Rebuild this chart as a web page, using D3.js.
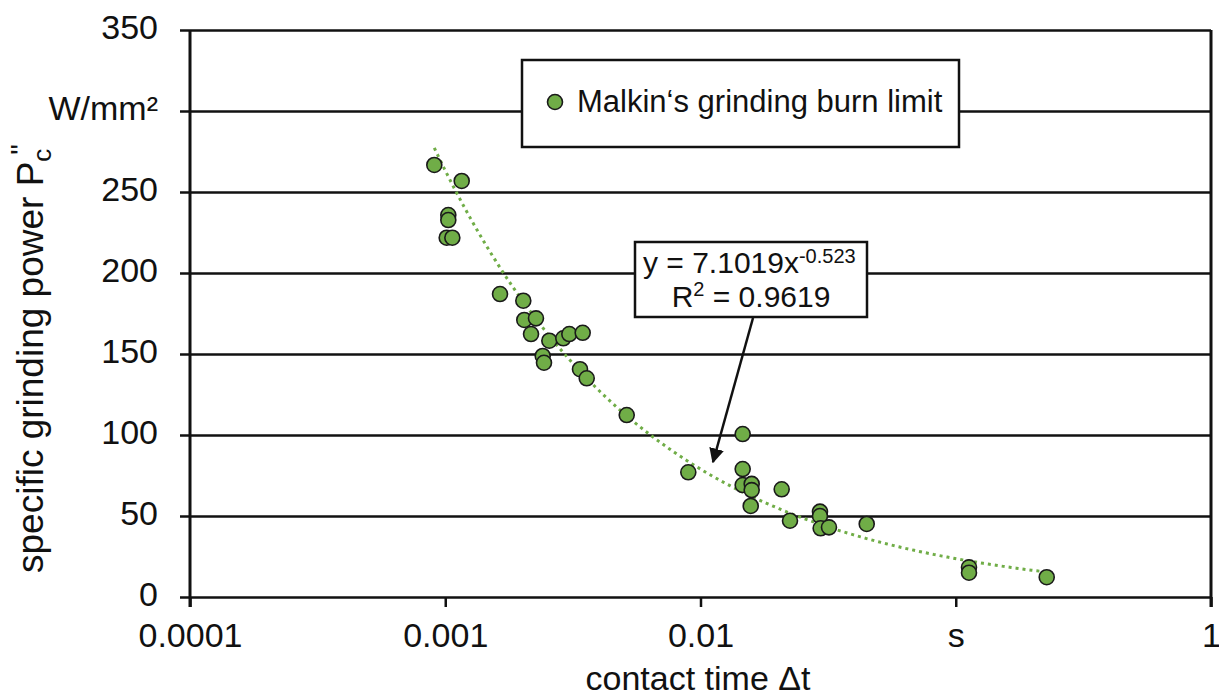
<!DOCTYPE html>
<html>
<head>
<meta charset="utf-8">
<script src="https://cdn.jsdelivr.net/npm/d3@7"></script>
<style>
  body { margin: 0; background: #fff; }
  text { font-family: "Liberation Sans", Arial, sans-serif; fill: #111; }
</style>
</head>
<body>
<div id="graph"></div>
<script>
// contact time (s) and specific grinding power (W/mm²)
const contactTime = [
  0.000906, 0.001160, 0.001028, 0.001028, 0.001013, 0.001066,
  0.001639, 0.002022, 0.002040, 0.002267, 0.002168, 0.002557,
  0.002409, 0.002437, 0.002901, 0.003062, 0.003455, 0.003372,
  0.003583, 0.005140, 0.008958, 0.01463, 0.01463, 0.01463,
  0.01587, 0.01587, 0.01573, 0.02080, 0.02242, 0.02938,
  0.02938, 0.02956, 0.03187, 0.04479, 0.1127, 0.1127, 0.2272
];
const grindPower = [
  266.7, 256.8, 235.8, 232.7, 221.8, 221.8,
  187.0, 182.9, 171.0, 172.0, 162.3, 158.2,
  148.8, 144.6, 159.7, 162.3, 163.1, 140.6,
  135.0, 112.3, 77.0, 100.6, 79.0, 69.1,
  69.8, 66.0, 56.2, 66.5, 47.1, 52.7,
  50.0, 42.4, 43.0, 45.1, 18.3, 15.0, 12.2
];

// power trendline printed on the chart: y = 7.1019 x^-0.523
const trendA = 7.1019;
const trendB = -0.523;

const xTicks = [0.0001, 0.001, 0.01, 0.1, 1];
const xTickLabels = ["0.0001", "0.001", "0.01", "s", "1"];
const yTicks = [0, 50, 100, 150, 200, 250, 300, 350];
const yTickLabels = ["0", "50", "100", "150", "200", "250", "W/mm²", "350"];

const width = 1219;
const height = 700;
const margin = {top: 30, right: 8, bottom: 103, left: 190};
const w = width - margin.left - margin.right;
const h = height - margin.top - margin.bottom;
const green = "#70ad47";

const svg = d3.select("#graph")
  .append("svg")
  .attr("width", width)
  .attr("height", height);

const g = svg.append("g")
  .attr("transform", `translate(${margin.left},${margin.top})`);

const x = d3.scaleLog()
  .domain([0.0001, 1])
  .range([0, w]);

const y = d3.scaleLinear()
  .domain([0, 350])
  .range([h, 0]);

// y axis with full-width gridlines
const yAxis = g.append("g")
  .call(d3.axisLeft(y).tickValues(yTicks)
    .tickFormat((d, i) => yTickLabels[i]).tickSize(10).tickPadding(22));
yAxis.select(".domain").remove();
yAxis.selectAll(".tick line")
  .attr("x1", -10)
  .attr("x2", w)
  .attr("stroke", "#111")
  .attr("stroke-width", 2.5);
yAxis.selectAll(".tick text")
  .attr("font-size", 34)
  .attr("dy", "0.26em");

// x axis
const xAxis = g.append("g")
  .attr("transform", `translate(0,${h})`)
  .call(d3.axisBottom(x).tickValues(xTicks)
    .tickFormat((d, i) => xTickLabels[i]).tickSize(10).tickPadding(16));
xAxis.select(".domain").remove();
xAxis.selectAll(".tick line")
  .attr("stroke", "#111")
  .attr("stroke-width", 2.5);
xAxis.selectAll(".tick text")
  .attr("font-size", 34);

// left axis line and right border
g.append("line")
  .attr("x1", 0).attr("x2", 0)
  .attr("y1", 0).attr("y2", h + 10)
  .attr("stroke", "#111").attr("stroke-width", 3);
g.append("line")
  .attr("x1", w).attr("x2", w)
  .attr("y1", 0).attr("y2", h + 10)
  .attr("stroke", "#111").attr("stroke-width", 3);

// trendline
const ext = d3.extent(contactTime);
const logT = d3.range(Math.log10(ext[0]), Math.log10(ext[1]) + 0.001, 0.01)
  .map(v => Math.pow(10, v));
const line = d3.line()
  .x(d => x(d))
  .y(d => y(trendA * Math.pow(d, trendB)));
g.append("path")
  .datum(logT)
  .attr("fill", "none")
  .attr("stroke", green)
  .attr("stroke-width", 3)
  .attr("stroke-dasharray", "3 4")
  .attr("d", line);

// points
g.selectAll("circle.pt")
  .data(contactTime)
  .join("circle")
  .attr("class", "pt")
  .attr("cx", d => x(d))
  .attr("cy", (d, i) => y(grindPower[i]))
  .attr("r", 7.5)
  .attr("fill", green)
  .attr("stroke", "#1a1a1a")
  .attr("stroke-width", 1.6);

// legend
const legend = svg.append("g");
legend.append("rect")
  .attr("x", 522).attr("y", 60)
  .attr("width", 437).attr("height", 87)
  .attr("fill", "#fff")
  .attr("stroke", "#111")
  .attr("stroke-width", 2.5);
legend.append("circle")
  .attr("cx", 555).attr("cy", 102).attr("r", 7.5)
  .attr("fill", green)
  .attr("stroke", "#1a1a1a")
  .attr("stroke-width", 1.6);
legend.append("text")
  .attr("x", 577).attr("y", 112)
  .attr("font-size", 31)
  .text("Malkin‘s grinding burn limit");

// equation box with arrow
svg.append("defs").append("marker")
  .attr("id", "arrow")
  .attr("viewBox", "0 0 10 10")
  .attr("refX", 9).attr("refY", 5)
  .attr("markerWidth", 6).attr("markerHeight", 6)
  .attr("orient", "auto")
  .append("path")
  .attr("d", "M0,0 L10,5 L0,10 z")
  .attr("fill", "#111");

svg.append("line")
  .attr("x1", 753).attr("y1", 318)
  .attr("x2", 713).attr("y2", 462)
  .attr("stroke", "#111")
  .attr("stroke-width", 2.5)
  .attr("marker-end", "url(#arrow)");

svg.append("rect")
  .attr("x", 635).attr("y", 242)
  .attr("width", 232).attr("height", 75)
  .attr("fill", "#fff")
  .attr("stroke", "#111")
  .attr("stroke-width", 2.5);

const eq1 = svg.append("text")
  .attr("x", 643).attr("y", 273)
  .attr("font-size", 30);
eq1.append("tspan").text("y = 7.1019x");
eq1.append("tspan").attr("font-size", 20).attr("dy", -10).text("-0.523");

const eq2 = svg.append("text")
  .attr("x", 751).attr("y", 307)
  .attr("font-size", 30)
  .attr("text-anchor", "middle");
eq2.append("tspan").text("R");
eq2.append("tspan").attr("font-size", 20).attr("dy", -11).text("2");
eq2.append("tspan").attr("dy", 11).text(" = 0.9619");

// axis titles
const yTitle = svg.append("text")
  .attr("transform", "translate(43,573) rotate(-90)")
  .attr("font-size", 37);
yTitle.append("tspan").text("specific grinding power P");
yTitle.append("tspan").attr("font-size", 26).attr("dy", 8).text("c");
yTitle.append("tspan").attr("font-size", 30).attr("dx", -6).attr("dy", -20).text("\"");

svg.append("text")
  .attr("x", 698).attr("y", 690)
  .attr("font-size", 34)
  .attr("text-anchor", "middle")
  .text("contact time Δt");
</script>
</body>
</html>
